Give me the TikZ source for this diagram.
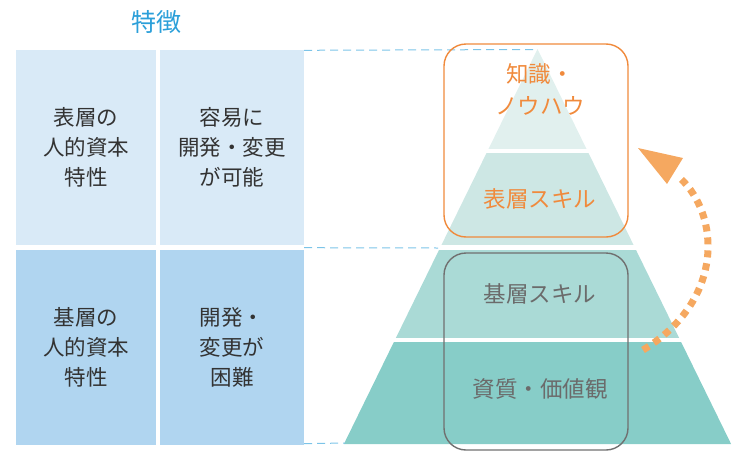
\documentclass[tikz,border=0pt]{standalone}
\usepackage{fontspec}
\setmainfont{Noto Sans CJK JP}
\definecolor{boxtop}{HTML}{D9EAF7}
\definecolor{boxbot}{HTML}{B0D5F0}
\definecolor{dashblue}{HTML}{7CC4E8}
\definecolor{titleblue}{HTML}{2B9FD9}
\definecolor{lay1}{HTML}{E1F0EE}
\definecolor{lay2}{HTML}{CDE7E4}
\definecolor{lay3}{HTML}{AADAD6}
\definecolor{lay4}{HTML}{87CDC8}
\definecolor{orng}{HTML}{F08A3C}
\definecolor{arrorng}{HTML}{F5A860}
\definecolor{graytxt}{HTML}{6B6B6B}
\definecolor{grayline}{HTML}{707070}
\definecolor{dark}{HTML}{333333}
\begin{document}
\begin{tikzpicture}[x=1pt,y=-1pt,
  cell/.style={inner sep=0pt, minimum width=#1, minimum height=195pt, align=center,
    font=\fontsize{21.5}{30}\selectfont, text=dark},
  guide/.style={draw=dashblue, line width=1pt, dash pattern=on 8pt off 5pt},
  pyrtxt/.style={inner sep=0pt, align=center, font=\fontsize{22.5}{32}\selectfont},
  frame/.style={draw=#1, line width=1.4pt, rounded corners=22pt, inner sep=0pt,
    minimum width=184pt},
]
\useasboundingbox (0,0) rectangle (749,458);

% title
\node[font=\fontsize{25}{30}\selectfont, text=titleblue] (title) at (156,22) {特徴};

% cells
\node[cell=140pt, fill=boxtop] (c11) at (86,147.5) {表層の\\人的資本\\特性};
\node[cell=144pt, fill=boxtop] (c12) at (232,147.5) {容易に\\開発・変更\\が可能};
\node[cell=140pt, fill=boxbot] (c21) at (86,347) {基層の\\人的資本\\特性};
\node[cell=144pt, fill=boxbot] (c22) at (232,347) {開発・\\変更が\\困難};

% pyramid
\coordinate (apex) at (537.5,49);
\coordinate (bl) at (343.9,444);
\coordinate (br) at (731.1,444);
\begin{scope}
  \clip (apex) -- (br) -- (bl) -- cycle;
  \fill[lay1] (300,40) rectangle (760,149);
  \fill[lay2] (300,153) rectangle (760,245);
  \fill[lay3] (300,250) rectangle (760,338);
  \fill[lay4] (300,342) rectangle (760,450);
\end{scope}

% guide lines
\coordinate (g1) at (537,49.5);
\coordinate (g2) at (438,248);
\coordinate (g3) at (345,443);
\draw[guide] (c12.north east) ++(0,0.5) -- (g1);
\draw[guide] (c12.south east) ++(0,2.5) -- (g2);
\draw[guide] (c22.south east) ++(0,-1) -- (g3);

% pyramid texts
\node[pyrtxt, text=orng] (t1) at (540,89) {知識・\\ノウハウ};
\node[pyrtxt, text=orng] (t2) at (540,199) {表層スキル};
\node[pyrtxt, text=graytxt] (t3) at (540,294) {基層スキル};
\node[pyrtxt, text=graytxt] (t4) at (540,389) {資質・価値観};

% frames
\node[frame=orng, minimum height=193pt] (fo) at (536,140.5) {};
\node[frame=grayline, minimum height=197pt] (fg) at (536,351.5) {};

% arrow
\coordinate (aS) at (643,350);
\coordinate (aE) at (680,178);
\draw[arrorng, line width=7pt, dash pattern=on 7pt off 6pt]
  (aS) .. controls (725,300) and (720,215) .. (aE);
\fill[arrorng] (638,148) -- (683,158) -- (667,184) -- cycle;
\end{tikzpicture}
\end{document}
